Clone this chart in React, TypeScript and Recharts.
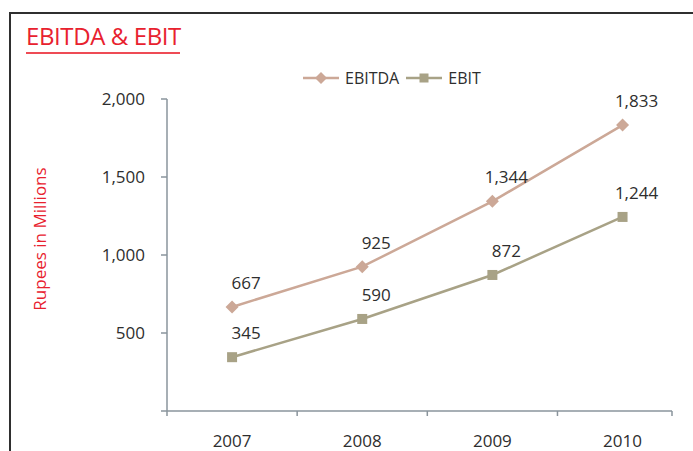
import React from "react";
import { LineChart, Line, XAxis, YAxis, Legend, LabelList, Label } from "recharts";

const years = ["2007", "2008", "2009", "2010"];
const ebitda = [667, 925, 1344, 1833];
const ebit = [345, 590, 872, 1244];
const yTicks = [0, 500, 1000, 1500, 2000];
const seriesOrder = ["ebitda", "ebit"];

const FONT = "'Open Sans', 'DejaVu Sans', sans-serif";
const RED = "#E8212E";
const TEXT = "#2e2e2e";
const AXIS = "#8A949C";
const EBITDA_COLOR = "#CCA897";
const EBIT_COLOR = "#A8A286";

// x positions are band centres; the axis ends a little short of the last band
const X_END = 3.88;

const data = years.map((year, i) => ({
  year,
  pos: i + 0.5,
  ebitda: ebitda[i],
  ebit: ebit[i],
}));

const fmt = (v: number) => v.toLocaleString("en-US");

function Diamond({ cx, cy, fill, size = 6.5 }: any) {
  if (cx == null || cy == null) return null;
  return (
    <path
      d={`M${cx},${cy - size} L${cx + size},${cy} L${cx},${cy + size} L${cx - size},${cy} Z`}
      fill={fill}
    />
  );
}

function Square({ cx, cy, fill, size = 5 }: any) {
  if (cx == null || cy == null) return null;
  return <rect x={cx - size} y={cy - size} width={size * 2} height={size * 2} fill={fill} />;
}

const valueLabel = (props: any) => {
  const { x, y, value, index } = props;
  return (
    <text
      key={`lbl-${index}`}
      x={x + 14}
      y={y - 18}
      textAnchor="middle"
      fontSize={17}
      fontFamily={FONT}
      fill={TEXT}
    >
      {fmt(value)}
    </text>
  );
};

const LegendContent = (props: any) => {
  const payload = [...(props.payload || [])].sort(
    (a: any, b: any) => seriesOrder.indexOf(a.dataKey) - seriesOrder.indexOf(b.dataKey)
  );
  return (
    <div style={{ display: "flex", alignItems: "center", fontFamily: FONT, fontSize: 16, color: TEXT }}>
      {payload.map((entry: any) => (
        <div key={entry.value} style={{ display: "flex", alignItems: "center", marginRight: 7 }}>
          <svg width={36} height={14} style={{ marginRight: 6 }}>
            <line x1={0} y1={7} x2={36} y2={7} stroke={entry.color} strokeWidth={2.5} />
            {entry.dataKey === "ebitda" ? (
              <Diamond cx={18} cy={7} fill={entry.color} size={6} />
            ) : (
              <Square cx={18} cy={7} fill={entry.color} size={4.5} />
            )}
          </svg>
          <span>{entry.value}</span>
        </div>
      ))}
    </div>
  );
};

export default function App() {
  return (
    <div
      style={{
        position: "absolute",
        left: 0,
        top: 0,
        width: 693,
        height: 451,
        overflow: "hidden",
        background: "#fff",
        fontFamily: FONT,
      }}
    >
      <div
        style={{
          position: "absolute",
          left: 9,
          top: 12,
          width: 684,
          height: 439,
          boxSizing: "border-box",
          borderTop: "2px solid #2f2f2f",
          borderLeft: "2px solid #2f2f2f",
        }}
      />
      <div
        style={{
          position: "absolute",
          left: 26,
          top: 24,
          fontSize: 24,
          lineHeight: "24px",
          color: RED,
          letterSpacing: -0.4,
          whiteSpace: "nowrap",
        }}
      >
        EBITDA &amp; EBIT
      </div>
      <div style={{ position: "absolute", left: 26, top: 52, width: 154, height: 2, background: "#EE4B55" }} />

      <div style={{ position: "absolute", left: 0, top: 0 }}>
        <LineChart width={693} height={451} data={data} margin={{ top: 99, right: 21, bottom: 0, left: 0 }}>
          <XAxis
            xAxisId="frame"
            dataKey="pos"
            type="number"
            domain={[0, X_END]}
            ticks={[0, 1, 2, 3, X_END]}
            tickFormatter={() => ""}
            height={6}
            tickSize={5}
            axisLine={{ stroke: AXIS, strokeWidth: 1.5 }}
            tickLine={{ stroke: AXIS, strokeWidth: 1.5 }}
            allowDataOverflow
          />
          <XAxis
            xAxisId="label"
            dataKey="pos"
            type="number"
            domain={[0, X_END]}
            ticks={data.map((d) => d.pos)}
            tickFormatter={(v: number) => years[Math.floor(v)]}
            height={34}
            tickSize={0}
            tickMargin={18}
            axisLine={false}
            tickLine={false}
            tick={{ fontSize: 17, fill: TEXT, fontFamily: FONT }}
            allowDataOverflow
          />
          <YAxis
            width={167}
            domain={[0, 2000]}
            ticks={yTicks}
            tickFormatter={(v: number) => (v === 0 ? "" : fmt(v))}
            tickSize={6}
            tickMargin={16}
            axisLine={{ stroke: AXIS, strokeWidth: 1.5 }}
            tickLine={{ stroke: AXIS, strokeWidth: 1.5 }}
            tick={{ fontSize: 17, fill: TEXT, fontFamily: FONT }}
          >
            <Label
              content={(props: any) => {
                const vb = props.viewBox || {};
                const x = (vb.x || 0) + 46;
                const y = (vb.y || 0) + (vb.height || 0) / 2 - 16;
                return (
                  <text
                    x={x}
                    y={y}
                    transform={`rotate(-90, ${x}, ${y})`}
                    textAnchor="middle"
                    fontSize={17}
                    fontFamily={FONT}
                    fill={RED}
                  >
                    Rupees in Millions
                  </text>
                );
              }}
            />
          </YAxis>
          <Legend
            layout="horizontal"
            verticalAlign="middle"
            align="center"
            content={LegendContent}
            wrapperStyle={{ top: 67, left: 303, width: "auto" }}
          />
          <Line
            xAxisId="label"
            dataKey="ebitda"
            name="EBITDA"
            stroke={EBITDA_COLOR}
            strokeWidth={2.5}
            isAnimationActive={false}
            dot={(p: any) => <Diamond key={`dia-${p.index}`} cx={p.cx} cy={p.cy} fill={EBITDA_COLOR} />}
            activeDot={false}
          >
            <LabelList dataKey="ebitda" content={valueLabel} />
          </Line>
          <Line
            xAxisId="label"
            dataKey="ebit"
            name="EBIT"
            stroke={EBIT_COLOR}
            strokeWidth={2.5}
            isAnimationActive={false}
            dot={(p: any) => <Square key={`sq-${p.index}`} cx={p.cx} cy={p.cy} fill={EBIT_COLOR} />}
            activeDot={false}
          >
            <LabelList dataKey="ebit" content={valueLabel} />
          </Line>
        </LineChart>
      </div>
    </div>
  );
}
